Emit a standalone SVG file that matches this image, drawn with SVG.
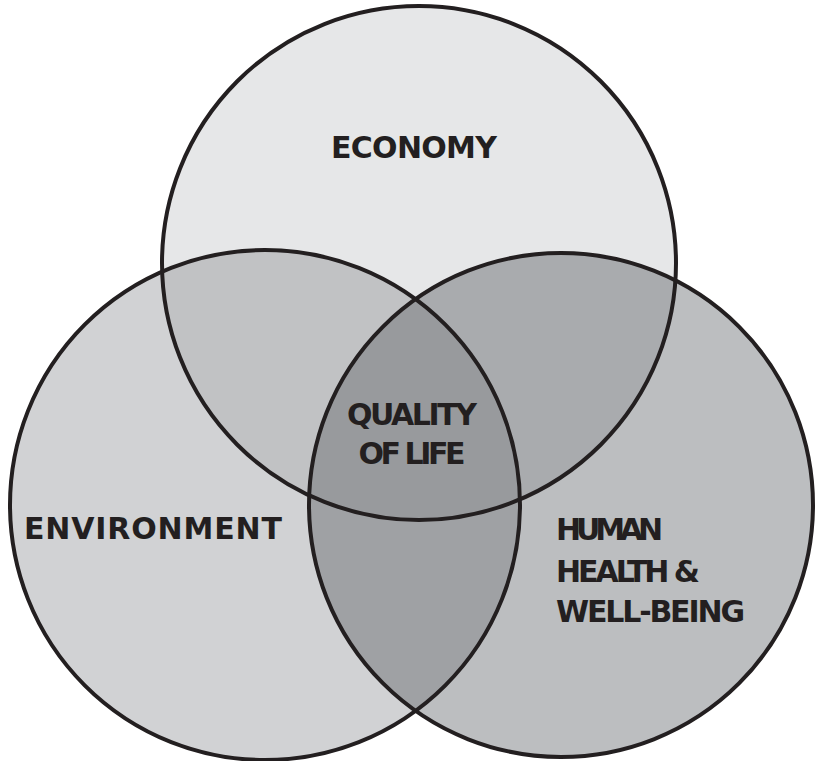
<svg xmlns="http://www.w3.org/2000/svg" width="815" height="761" viewBox="0 0 815 761">
<style>
.lbl{font-family:"DejaVu Sans","Liberation Sans",sans-serif;font-weight:bold;font-size:30px;fill:#231f20}
.ring{fill:none;stroke:#231f20;stroke-width:4}
</style>
<defs>
<clipPath id="cE"><circle cx="419" cy="263" r="257"/></clipPath>
<clipPath id="cV"><circle cx="265" cy="505" r="255"/></clipPath>
<clipPath id="cH"><circle cx="561" cy="505" r="252"/></clipPath>
</defs>
<rect width="815" height="761" fill="#ffffff"/>
<g id="fills">
<circle cx="419" cy="263" r="257" fill="#e6e7e8"/>
<circle cx="265" cy="505" r="255" fill="#d1d2d4"/>
<circle cx="561" cy="505" r="252" fill="#bcbec0"/>
<circle cx="265" cy="505" r="255" fill="#c1c2c4" clip-path="url(#cE)"/>
<circle cx="561" cy="505" r="252" fill="#a9abae" clip-path="url(#cE)"/>
<circle cx="561" cy="505" r="252" fill="#9fa1a4" clip-path="url(#cV)"/>
<g clip-path="url(#cE)"><circle cx="561" cy="505" r="252" fill="#989a9d" clip-path="url(#cV)"/></g>
</g>
<g id="economy">
<circle class="ring" cx="419" cy="263" r="257"/>
<text class="lbl" x="414" y="158" text-anchor="middle" textLength="166">ECONOMY</text>
</g>
<g id="environment">
<circle class="ring" cx="265" cy="505" r="255"/>
<text class="lbl" x="153" y="539" text-anchor="middle" textLength="258">ENVIRONMENT</text>
</g>
<g id="human-health">
<circle class="ring" cx="561" cy="505" r="252"/>
<text class="lbl" x="556" y="540" textLength="107">HUMAN</text>
<text class="lbl" x="556" y="582" textLength="144">HEALTH &amp;</text>
<text class="lbl" x="556" y="622" textLength="189">WELL-BEING</text>
</g>
<g id="quality-of-life">
<text class="lbl" x="412" y="425" text-anchor="middle" textLength="130">QUALITY</text>
<text class="lbl" x="412" y="464" text-anchor="middle" textLength="107">OF LIFE</text>
</g>
</svg>
